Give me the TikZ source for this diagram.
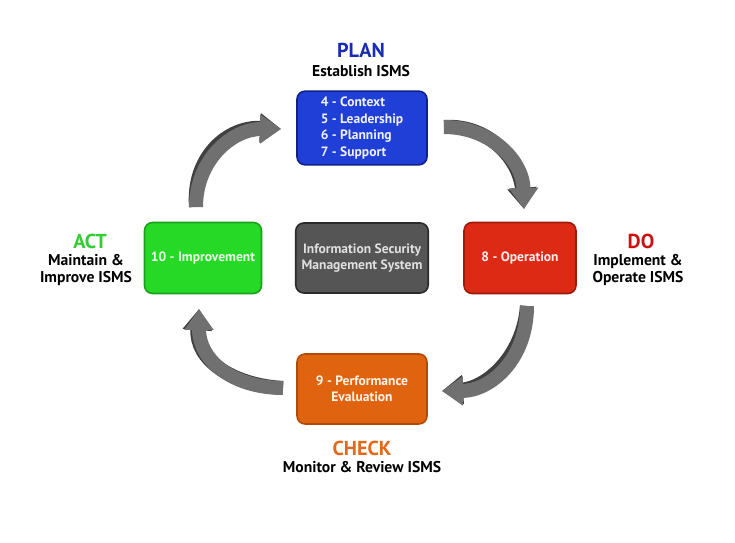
\documentclass[tikz,border=0pt]{standalone}
\usepackage{fontspec}
\setmainfont{PT Sans}
\usepackage{tikz}
\usetikzlibrary{positioning,arrows.meta}
\definecolor{planblue}{HTML}{1F3FD6}
\definecolor{planedge}{HTML}{10208C}
\definecolor{planhead}{HTML}{1A2DB0}
\definecolor{dogreen}{HTML}{26D926}
\definecolor{doedge}{HTML}{1AA01A}
\definecolor{acthead}{HTML}{33CC33}
\definecolor{ismsgray}{HTML}{555555}
\definecolor{ismsedge}{HTML}{2A2A2A}
\definecolor{opred}{HTML}{DC2A14}
\definecolor{opedge}{HTML}{A01A0A}
\definecolor{dohead}{HTML}{CC1111}
\definecolor{evalorange}{HTML}{E0640F}
\definecolor{evaledge}{HTML}{B04A08}
\definecolor{checkhead}{HTML}{E36A1C}
\definecolor{arrowtop}{HTML}{707070}
\definecolor{arrowside}{HTML}{404040}
\tikzset{
  phasebox/.style={draw, rounded corners=0.16cm, line width=0.9pt, minimum width=2.6cm, minimum height=1.4cm, align=center, font=\fontsize{7.7}{9.4}\selectfont\bfseries},
  headtext/.style={font=\fontsize{11.5}{13}\selectfont\bfseries},
  subtext/.style={font=\fontsize{8.9}{10.2}\selectfont\bfseries, align=center, text=black},
  cyclearrow/.style={line width=0.28cm, draw=arrowtop, -{Triangle[length=0.42cm, width=0.56cm, fill=arrowtop]}},
  cycleside/.style={line width=0.28cm, draw=arrowside, -{Triangle[length=0.42cm, width=0.56cm, fill=arrowside]}, shift={(-4,-3)}}
}
\begin{document}
\begin{tikzpicture}[x=0.02cm, y=-0.02cm]
  \useasboundingbox[fill=white] (0,0) rectangle (735,543);
  % boxes
  \node[phasebox, fill=planblue, draw=planedge, text=blue!6, align=left] (plan) at (362,128) {4 - Context\\5 - Leadership\\6 - Planning\\7 - Support};
  \node[phasebox, fill=ismsgray, draw=ismsedge, text=black!12] (isms) at (362,258) {Information Security\\Management System};
  \node[phasebox, fill=dogreen, draw=doedge, text=green!8, minimum width=2.34cm, minimum height=1.42cm] (act) at (203,258) {10 - Improvement};
  \node[phasebox, fill=opred, draw=opedge, text=red!6, minimum width=2.24cm, minimum height=1.42cm] (do) at (520,258) {8 - Operation};
  \node[phasebox, fill=evalorange, draw=evaledge, text=orange!8] (check) at (362,389) {9 - Performance\\Evaluation};
  % titles
  \node[headtext, text=planhead] (plantitle) at (361,50) {PLAN};
  \node[subtext] (plansub) at (361,71) {Establish ISMS};
  \node[headtext, text=dohead] (dotitle) at (641,241) {DO};
  \node[subtext] (dosub) at (638,270) {Implement \&\\Operate ISMS};
  \node[headtext, text=checkhead] (checktitle) at (362,448) {CHECK};
  \node[subtext] (checksub) at (362,467) {Monitor \& Review ISMS};
  \node[headtext, text=acthead] (acttitle) at (90,241) {ACT};
  \node[subtext] (actsub) at (86,270) {Maintain \&\\Improve ISMS};
  % arrow ends
  \coordinate (actout) at (196,207);
  \coordinate (planin) at (281,129);
  \coordinate (planout) at (444,127);
  \coordinate (doin) at (524,209);
  \coordinate (doout) at (527,306);
  \coordinate (checkin) at (442,391);
  \coordinate (checkout) at (283,388);
  \coordinate (actin) at (199,309);
  % 3d arrows
  \draw[cycleside] (actout) .. controls (196,160) and (232,129) .. (planin);
  \draw[cyclearrow] (actout) .. controls (196,160) and (232,129) .. (planin);
  \draw[cycleside] (planout) .. controls (490,127) and (523,160) .. (doin);
  \draw[cyclearrow] (planout) .. controls (490,127) and (523,160) .. (doin);
  \draw[cycleside] (doout) .. controls (527,360) and (490,391) .. (checkin);
  \draw[cyclearrow] (doout) .. controls (527,360) and (490,391) .. (checkin);
  \draw[cycleside] (checkout) .. controls (235,388) and (199,362) .. (actin);
  \draw[cyclearrow] (checkout) .. controls (235,388) and (199,362) .. (actin);
\end{tikzpicture}
\end{document}
